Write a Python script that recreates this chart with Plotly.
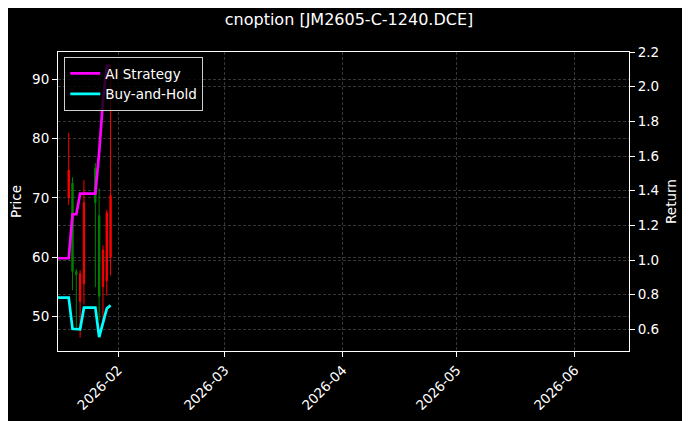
import plotly.graph_objs as go

# candle data (trading days shown in the window)
candle_dates = ['2026-01-19', '2026-01-20', '2026-01-21', '2026-01-22', '2026-01-23',
                '2026-01-26', '2026-01-27', '2026-01-28', '2026-01-29', '2026-01-30']
open_prices = [70.0, 72.5, 57.6, 52.5, 55.5, 75.0, 67.0, 55.0, 56.0, 60.0]
high_prices = [81.0, 73.5, 58.0, 57.8, 73.0, 75.9, 71.6, 62.0, 68.0, 92.4]
low_prices = [68.8, 54.4, 48.1, 46.4, 52.0, 54.9, 49.3, 49.0, 53.5, 56.9]
close_prices = [74.7, 57.6, 57.0, 57.2, 69.2, 69.2, 53.4, 61.2, 67.5, 70.4]

# cumulative return lines
line_dates = ['2026-01-16', '2026-01-19', '2026-01-20', '2026-01-21', '2026-01-22', '2026-01-23',
              '2026-01-26', '2026-01-27', '2026-01-28', '2026-01-29', '2026-01-30']
ai_strategy = [1.01, 1.01, 1.264, 1.264, 1.383, 1.383, 1.383, 1.62, 1.92, 2.12, 2.12]
buy_and_hold = [0.783, 0.783, 0.603, 0.60, 0.60, 0.725, 0.725, 0.555, 0.642, 0.72, 0.738]

month_ticks = ['2026-02-01', '2026-03-01', '2026-04-01', '2026-05-01', '2026-06-01']
month_labels = ['2026-02', '2026-03', '2026-04', '2026-05', '2026-06']

title = 'cnoption [JM2605-C-1240.DCE]'

fig = go.Figure()

# red = up, green = down (chinese style)
fig.add_trace(go.Candlestick(
    x=candle_dates,
    open=open_prices, high=high_prices, low=low_prices, close=close_prices,
    increasing=dict(line=dict(color='red', width=1), fillcolor='red'),
    decreasing=dict(line=dict(color='#008000', width=1), fillcolor='#008000'),
    whiskerwidth=0,
    showlegend=False,
    hoverinfo='skip'
))

fig.add_trace(go.Scatter(
    x=line_dates, y=ai_strategy, name='AI Strategy', yaxis='y2',
    mode='lines', line=dict(color='#ff00ff', width=2.7)
))
fig.add_trace(go.Scatter(
    x=line_dates, y=buy_and_hold, name='Buy-and-Hold', yaxis='y2',
    mode='lines', line=dict(color='#00ffff', width=2.7)
))

grid = 'rgba(120,120,120,0.45)'
font = 'DejaVu Sans'

# page body adds an 8px offset, so the figure is a bit smaller than the window
fig.update_layout(
    width=682, height=413,
    margin=dict(l=50, r=61, t=44, b=70),
    paper_bgcolor='black', plot_bgcolor='black',
    font=dict(family=font, size=13.5, color='white'),
    title=dict(text=title, x=0.5, xanchor='center', y=1 - 11 / 413, yanchor='middle',
               font=dict(size=16, color='white')),
    showlegend=True,
    boxgap=0.5,
    legend=dict(x=0.011, y=0.983, xanchor='left', yanchor='top',
                bgcolor='rgba(0,0,0,0.8)', bordercolor='rgba(230,230,230,0.9)', borderwidth=1,
                font=dict(size=13.5, color='white'), tracegroupgap=0),
    xaxis=dict(
        type='date', automargin=False,
        range=['2026-01-16 04:30', '2026-06-15 05:00'],
        rangeslider=dict(visible=False),
        tickvals=month_ticks, ticktext=month_labels, tickangle=-45,
        ticks='outside', ticklen=5, tickcolor='white', tickwidth=1,
        showline=True, mirror=True, linecolor='white', linewidth=1,
        showgrid=True, gridcolor=grid, griddash='3px,2px', gridwidth=0.6,
        zeroline=False
    ),
    yaxis=dict(
        range=[44.14, 94.66], automargin=False,
        tickvals=[50, 60, 70, 80, 90],
        ticks='outside', ticklen=5, tickcolor='white', tickwidth=1,
        showline=True, mirror=True, linecolor='white', linewidth=1,
        showgrid=True, gridcolor=grid, griddash='3px,2px', gridwidth=0.6,
        zeroline=False,
        title=dict(text='Price', standoff=8, font=dict(size=13.5))
    ),
    yaxis2=dict(
        overlaying='y', side='right', automargin=False,
        range=[0.475, 2.2],
        tickvals=[0.6, 0.8, 1.0, 1.2, 1.4, 1.6, 1.8, 2.0, 2.2], tickformat='.1f',
        ticks='outside', ticklen=5, tickcolor='white', tickwidth=1,
        showline=True, linecolor='white', linewidth=1,
        showgrid=True, gridcolor=grid, griddash='3px,2px', gridwidth=0.6,
        zeroline=False,
        title=dict(text='Return', standoff=8, font=dict(size=13.5))
    )
)

fig.write_html('out.html')
